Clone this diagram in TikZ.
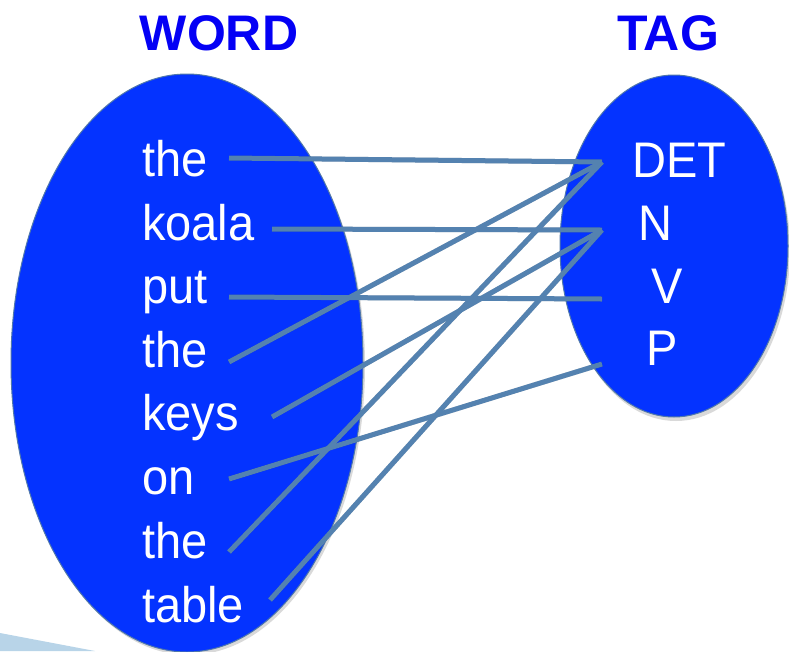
\documentclass[tikz,border=0pt]{standalone}
\usepackage{fontspec}
\setmainfont{Liberation Sans}
\newfontfamily\wordfont[FakeStretch=0.94]{Liberation Sans}
\definecolor{ellblue}{RGB}{4,51,255}
\definecolor{ellrim}{RGB}{80,120,170}
\definecolor{linkblue}{RGB}{84,130,176}
\definecolor{titleblue}{RGB}{4,0,245}
\definecolor{wedgeblue}{RGB}{184,212,232}
\tikzset{
  bubble/.style={ellipse, draw=ellrim, line width=1pt, fill=ellblue},
  wordtext/.style={anchor=base west, inner sep=0pt, text=white, font=\wordfont\fontsize{50}{50}\selectfont},
  titletext/.style={anchor=base, inner sep=0pt, text=titleblue, font=\bfseries\fontsize{50}{50}\selectfont},
  link/.style={draw=linkblue, line width=5pt},
  linkshadow/.style={draw=black, opacity=0.18, line width=5pt}
}
\usetikzlibrary{shapes.geometric}
\begin{document}
\begin{tikzpicture}[x=1pt,y=-1pt]
\useasboundingbox (0,0) rectangle (789,651);
% light wedge in corner
\fill[wedgeblue] (0,633) -- (95,651) -- (0,651) -- cycle;
% ellipses
\fill[black,opacity=0.15] (189,366) ellipse [x radius=176, y radius=289];
\path[draw=ellrim, line width=1pt, fill=ellblue] (187,363) ellipse [x radius=176, y radius=289];
\fill[black,opacity=0.15] (676,250) ellipse [x radius=114, y radius=171];
\path[draw=ellrim, line width=1pt, fill=ellblue] (674,246) ellipse [x radius=114, y radius=171];
% titles
\node[titletext] (tword) at (219,50) {WORD};
\node[titletext] (ttag) at (668,50) {TAG};
% words
\node[wordtext] (w1) at (142,176) {the};
\node[wordtext] (w2) at (142,240) {koala};
\node[wordtext] (w3) at (142,303) {put};
\node[wordtext] (w4) at (142,367) {the};
\node[wordtext] (w5) at (142,430) {keys};
\node[wordtext] (w6) at (142,494) {on};
\node[wordtext] (w7) at (142,558) {the};
\node[wordtext] (w8) at (142,622) {table};
% tags
\node[wordtext] (tdet) at (632,177) {DET};
\node[wordtext] (tn) at (638,240) {N};
\node[wordtext] (tv) at (651,303) {V};
\node[wordtext] (tp) at (646,365) {P};
% connector ends
\coordinate (e1) at (229,158);
\coordinate (e2) at (272,229);
\coordinate (e3) at (229,297);
\coordinate (e4) at (229,362);
\coordinate (e5) at (272,417);
\coordinate (e6) at (229,479);
\coordinate (e7) at (229,552);
\coordinate (e8) at (270,600);
\coordinate (cdet) at (602,162);
\coordinate (cn) at (602,230);
\coordinate (cv) at (602,299);
\coordinate (cp) at (602,364);
% shadows
\begin{scope}[shift={(1.5,2.5)}]
\path[linkshadow] (e1) -- (cdet);
\path[linkshadow] (e2) -- (cn);
\path[linkshadow] (e3) -- (cv);
\path[linkshadow] (e4) -- (cdet);
\path[linkshadow] (e5) -- (cn);
\path[linkshadow] (e6) -- (cp);
\path[linkshadow] (e7) -- (cdet);
\path[linkshadow] (e8) -- (cn);
\end{scope}
% connectors
\path[link] (e1) -- (cdet);
\path[link] (e2) -- (cn);
\path[link] (e3) -- (cv);
\path[link] (e4) -- (cdet);
\path[link] (e5) -- (cn);
\path[link] (e6) -- (cp);
\path[link] (e7) -- (cdet);
\path[link] (e8) -- (cn);
\end{tikzpicture}
\end{document}
